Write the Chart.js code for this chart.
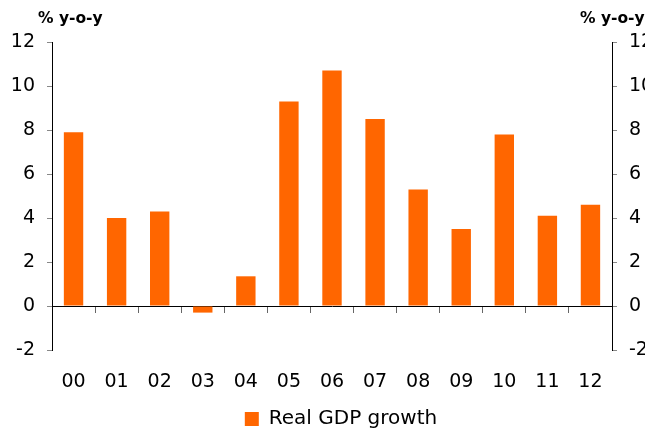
<!DOCTYPE html>
<html>
<head>
<meta charset="utf-8">
<script src="https://cdn.jsdelivr.net/npm/chart.js@4"></script>
<style>
  html, body { margin: 0; padding: 0; background: #fff; }
  #wrap { width: 645px; height: 428px; }
</style>
</head>
<body>
<div id="wrap"><canvas id="chart"></canvas></div>
<script>
const years = ['00', '01', '02', '03', '04', '05', '06', '07', '08', '09', '10', '11', '12'] ;
const gdpGrowth = [7.9, 4.0, 4.3, -0.3, 1.35, 9.3, 10.7, 8.5, 5.3, 3.5, 7.8, 4.1, 4.6] ;
const seriesName = 'Real GDP growth' ;
const unitLabel = '% y-o-y' ;
const yMin = -2, yMax = 12, yStep = 2 ;

const fontFamily = '"DejaVu Sans", Verdana, sans-serif' ;
const barColor = '#ff6600' ;

// "% y-o-y" over both value axes
const unitText = {
    id: 'unitText',
    afterLayout(chart) {
        // legend in the original sits a bit right of centre
        if (chart.legend) {
            chart.legend.left += 9 ;
            chart.legend.right += 9 ;
        }
    },
    afterDraw(chart) {
        const { ctx } = chart ;
        ctx.save() ;
        ctx.font = 'bold 15.5px ' + fontFamily ;
        ctx.fillStyle = '#000' ;
        ctx.textBaseline = 'alphabetic' ;
        ctx.textAlign = 'left' ;
        ctx.fillText(unitLabel, 38, 23) ;
        ctx.fillText(unitLabel, 580, 23) ;
        ctx.restore() ;
    }
}

const valueAxis = (pos, w) => ({
    position: pos,
    min: yMin,
    max: yMax,
    afterFit(scale) { scale.width = w ; },
    border: { display: true, color: '#000', width: 1 },
    grid: { drawOnChartArea: false, drawTicks: true, tickLength: 5, color: '#888' },
    ticks: { stepSize: yStep, color: '#000', padding: 12, font: { family: fontFamily, size: 19 } }
}) ;

const chart = new Chart(document.getElementById('chart'), {
    type: 'bar',
    data: {
        labels: years,
        datasets: [{
            label: seriesName,
            data: gdpGrowth,
            backgroundColor: barColor,
            borderWidth: 0,
            categoryPercentage: 1,
            barPercentage: 0.45,
            xAxisID: 'x',
            yAxisID: 'y'
        }]
    },
    options: {
        responsive: true,
        maintainAspectRatio: false,
        animation: false,
        layout: { padding: { top: 42, left: 0, right: 0, bottom: -11 } },
        scales: {
            // axis line at zero, tick marks only
            x: {
                position: { y: 0 },
                border: { display: true, color: '#000', width: 1 },
                grid: { offset: true, drawOnChartArea: false, drawTicks: true, tickLength: 6, color: '#666' },
                ticks: { display: false }
            },
            // labels below the plot
            x2: {
                type: 'category',
                labels: years,
                position: 'bottom',
                afterFit(scale) { scale.height = 54 ; },
                border: { display: false },
                grid: { display: false, drawTicks: false },
                ticks: { color: '#000', padding: 21, font: { family: fontFamily, size: 19 } }
            },
            y: valueAxis('left', 52),
            y2: valueAxis('right', 33)
        },
        plugins: {
            legend: {
                position: 'bottom',
                fullSize: false,
                labels: {
                    color: '#000',
                    boxWidth: 14,
                    boxHeight: 14,
                    padding: 5,
                    font: { family: fontFamily, size: 20 }
                }
            },
            tooltip: { enabled: false }
        }
    },
    plugins: [unitText]
});
</script>
</body>
</html>
